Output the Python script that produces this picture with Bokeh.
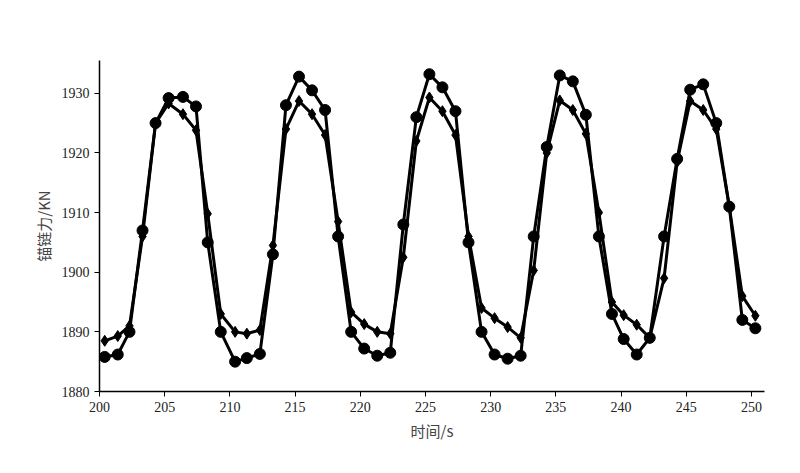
from bokeh.plotting import figure
from bokeh.embed import file_html
from bokeh.resources import INLINE
from bokeh.models import Range1d, FixedTicker, Legend, LegendItem

t = [200.4, 201.4, 202.3, 203.3, 204.3, 205.3, 206.4, 207.4, 208.3, 209.3,
     210.4, 211.3, 212.3, 213.3, 214.3, 215.3, 216.3, 217.3, 218.3, 219.3,
     220.3, 221.3, 222.3, 223.3, 224.3, 225.3, 226.3, 227.3, 228.3, 229.3,
     230.3, 231.3, 232.3, 233.3, 234.3, 235.3, 236.3, 237.3, 238.3, 239.3,
     240.2, 241.2, 242.2, 243.3, 244.3, 245.3, 246.3, 247.3, 248.3, 249.3, 250.3]
aqwa = [1888.5, 1889.3, 1891, 1906, 1925, 1928.3, 1926.5, 1923.8, 1909.8, 1893,
        1890, 1889.7, 1890.3, 1904.5, 1924, 1928.7, 1926.5, 1923, 1908.5, 1893.3,
        1891.3, 1890, 1889.7, 1902.5, 1922, 1929.3, 1927, 1923, 1906, 1894,
        1892.3, 1890.8, 1889, 1900.3, 1920, 1928.8, 1927.2, 1923.2, 1910, 1895,
        1892.8, 1891.2, 1889, 1899, 1918.5, 1928.7, 1927.2, 1924, 1911, 1896, 1892.7]
bladed = [1885.8, 1886.2, 1890, 1907, 1925, 1929.2, 1929.4, 1927.8, 1905, 1890,
          1885, 1885.6, 1886.3, 1903, 1928, 1932.8, 1930.5, 1927.2, 1906, 1890,
          1887.2, 1886, 1886.5, 1908, 1926, 1933.2, 1931, 1927, 1905, 1890,
          1886.2, 1885.5, 1886, 1906, 1921, 1933, 1932, 1926.4, 1906, 1893,
          1888.8, 1886.2, 1889, 1906, 1919, 1930.6, 1931.5, 1925, 1911, 1892, 1890.6]
xticks = [200, 205, 210, 215, 220, 225, 230, 235, 240, 245, 250]
yticks = [1880, 1890, 1900, 1910, 1920, 1930]

p = figure(width=784, height=457, output_backend="svg", toolbar_location=None,
           x_range=Range1d(200, 251), y_range=Range1d(1880, 1935.5),
           min_border_left=99, min_border_right=20, min_border_top=60, min_border_bottom=66)
p.outline_line_color = None
p.xgrid.visible = False
p.ygrid.visible = False
for ax in (p.xaxis[0], p.yaxis[0]):
    ax.axis_line_width = 1.5
    ax.axis_line_color = "black"
    ax.major_tick_line_color = "black"
    ax.minor_tick_line_color = None
    ax.major_tick_in = 0
    ax.major_tick_out = 5
    ax.major_label_text_font = "Liberation Serif"
    ax.major_label_text_font_size = "14px"
    ax.major_label_text_color = "#222222"
    ax.axis_label_text_font = "Noto Sans CJK SC"
    ax.axis_label_text_font_size = "15px"
    ax.axis_label_text_font_style = "normal"
p.xaxis.ticker = FixedTicker(ticks=xticks)
p.yaxis.ticker = FixedTicker(ticks=yticks)
p.xaxis.axis_label = "时间/s"
p.yaxis.axis_label = "锚链力/KN"

l1 = p.line(t, aqwa, line_color="black", line_width=3)
m1 = p.scatter(t, aqwa, marker="diamond", size=11, color="black")
l2 = p.line(t, bladed, line_color="black", line_width=3)
m2 = p.scatter(t, bladed, marker="circle", size=11, color="black")

leg = Legend(items=[LegendItem(label="AQWA", renderers=[l1, m1]),
                    LegendItem(label="Bladed", renderers=[l2, m2])],
             orientation="horizontal", location=(176, 360), border_line_color=None,
             background_fill_alpha=0,
             label_text_font="Liberation Serif", label_text_font_size="15px",
             glyph_width=40, spacing=30, margin=0, padding=4)
p.add_layout(leg, "center")

open("out.html", "w").write(file_html(p, INLINE))
